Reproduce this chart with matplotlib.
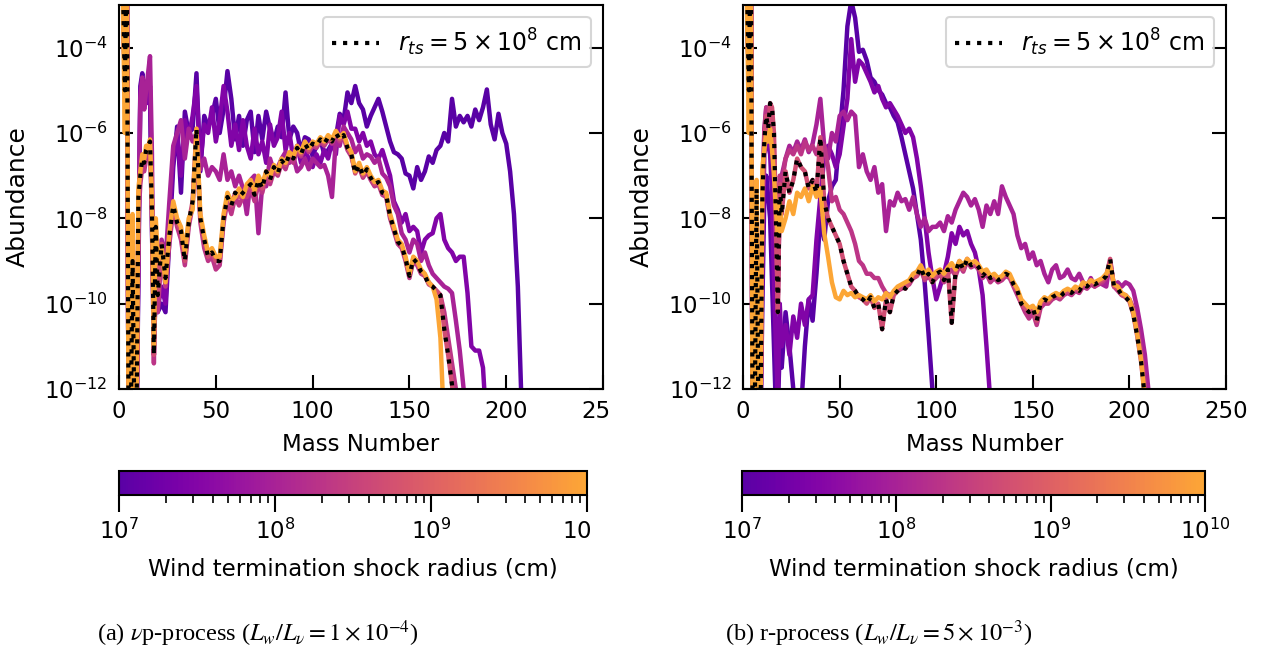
import numpy as np
import matplotlib
matplotlib.use('Agg')
import matplotlib.pyplot as plt
from matplotlib.colors import LogNorm, ListedColormap
from matplotlib.cm import ScalarMappable
from matplotlib.ticker import NullLocator, LogLocator, NullFormatter
from matplotlib.patches import Rectangle

plt.rcParams['font.size'] = 16.5
plt.rcParams['axes.linewidth'] = 1.5

# mass number grid: every A up to 20, then every second A
mass = np.r_[1:21, 22:211:2]

# shock radii of the plotted models (cm), dotted one is 5e8
radii = [1e7, 3e7, 1e8, 2e8, 5e8, 1e10]

# ---- (a) nu p-process, log10 abundance ----
vp_r1 = [-1.0, -2.5, -5.0, -1.2, -14, -13, -11.0, -13, -13, -9.5,
         -4.9, -4.6, -5.0, -4.8, -5.2, -5.0, -8.3, -10.5, -9.8, -10.2,
         -10.0, -10.2, -8.5, -6.8, -5.85, -7.4, -5.5, -6.0, -5.9, -4.6,
         -6.9, -5.6, -5.85, -5.6, -5.2, -6.0, -5.45, -4.55, -5.2, -6.15,
         -5.6, -6.3, -5.7, -5.5, -6.45, -5.6, -6.15, -5.5, -5.9, -6.2,
         -5.85, -6.1, -5.05, -6.15, -5.85, -6.0, -6.45, -6.1, -6.15, -6.55,
         -6.3, -6.15, -6.5, -6.4, -6.25, -6.1, -5.55, -5.7, -5.05, -5.3,
         -4.9, -5.3, -5.45, -5.85, -5.6, -5.4, -5.2, -5.5, -5.85, -6.2,
         -6.45, -6.5, -6.6, -6.95, -7.0, -7.3, -6.8, -7.1, -6.9, -6.55,
         -6.7, -6.4, -6.3, -6.0, -6.2, -5.2, -5.85, -5.6, -5.75, -5.6,
         -5.85, -5.45, -5.7, -5.4, -4.98, -5.8, -6.15, -5.55, -6.0, -6.25,
         -6.9, -7.9, -9.6, -12.5]
vp_r2 = [-1.0, -2.5, -5.0, -1.2, -14, -13, -11.0, -13, -13, -9.0,
         -5.0, -4.75, -5.3, -4.9, -5.3, -4.9, -7.5, -10.8, -9.8, -10.1,
         -9.6, -10.0, -8.0, -6.6, -6.0, -7.0, -5.7, -6.1, -5.6, -4.9,
         -6.7, -5.8, -6.0, -5.4, -6.2, -5.7, -4.9, -5.5, -6.3, -5.8,
         -6.4, -5.7, -6.3, -6.6, -5.9, -6.5, -6.2, -6.7, -5.8, -6.3,
         -6.1, -5.5, -6.4, -6.0, -6.6, -6.3, -6.7, -6.4, -6.6, -6.8,
         -6.5, -6.7, -6.4, -6.6, -6.2, -6.5, -5.6, -5.8, -5.5, -5.9,
         -5.9, -6.2, -6.0, -6.3, -6.2, -6.5, -6.6, -6.4, -6.7, -7.0,
         -7.6, -7.8, -8.1, -7.9, -8.3, -8.2, -8.3, -8.8, -8.5, -8.4,
         -8.35, -8.0, -7.9, -8.5, -8.7, -8.8, -9.0, -8.9, -8.9, -9.75,
         -11.0, -11.1, -11.1, -11.5, -13]
vp_r3 = [-1.0, -2.5, -5.0, -1.2, -14, -13, -10.0, -13, -13, -8.5,
         -5.2, -4.7, -5.45, -5.0, -4.6, -4.2, -6.5, -11.2, -9.5, -10.0,
         -8.5, -9.0, -7.6, -6.3, -6.0, -5.7, -6.6, -5.9, -6.2, -6.0,
         -6.85, -6.6, -7.0, -6.8, -6.9, -7.1, -6.5, -7.1, -6.9, -7.25,
         -7.0, -7.3, -7.9, -7.1, -7.0, -8.35, -7.2, -7.25, -6.6, -6.9,
         -6.8, -6.6, -6.45, -6.7, -6.55, -6.9, -6.8, -6.6, -6.85, -6.6,
         -6.7, -6.8, -6.75, -7.0, -7.5, -6.15, -6.3, -5.85, -6.0, -6.15,
         -6.45, -6.3, -6.6, -6.5, -6.55, -6.7, -6.6, -6.95, -7.05, -7.25,
         -7.7, -7.9, -8.35, -8.5, -8.8, -8.5, -8.6, -9.0, -8.8, -9.1,
         -9.3, -9.4, -9.5, -9.6, -9.65, -9.75, -10.4, -11.1, -12.0, -13]
vp_r4 = [-1.0, -2.5, -5.0, -1.2, -14, -13, -9.0, -13, -13, -8.0,
         -7.2, -6.8, -6.9, -6.6, -6.4, -6.3, -8.0, -11.4, -8.4, -10.2,
         -8.8, -9.6, -8.6, -7.8, -8.2, -8.5, -9.1, -8.2, -7.7, -6.2,
         -8.1, -8.7, -9.0, -8.9, -9.2, -9.1, -8.1, -7.6, -7.9, -7.5,
         -7.7, -7.5, -7.5, -7.3, -7.6, -7.2, -7.4, -7.0, -7.2, -6.9,
         -7.0, -6.7, -6.85, -6.55, -6.7, -6.4, -6.55, -6.3, -6.45, -6.3,
         -6.35, -6.2, -6.3, -6.15, -6.25, -6.05, -6.2, -6.1, -6.4, -6.55,
         -6.9, -6.8, -7.05, -6.9, -7.1, -7.25, -7.2, -7.45, -7.5, -8.0,
         -8.3, -8.6, -8.7, -9.0, -9.4, -9.0, -9.1, -9.3, -9.35, -9.5,
         -9.6, -9.7, -9.8, -10.2, -10.8, -11.4, -12.0, -13]
vp_dot = [-1.0, -2.5, -5.0, -1.2, -14, -13, -9.0, -13, -13, -7.5,
          -7.0, -6.6, -6.7, -6.4, -6.3, -6.2, -7.8, -11.2, -8.2, -9.8,
          -8.6, -9.4, -8.4, -7.7, -8.1, -8.3, -9.0, -8.1, -7.6, -5.9,
          -8.0, -8.5, -8.9, -8.8, -9.0, -9.0, -8.0, -7.5, -7.7, -7.4,
          -7.5, -7.4, -7.3, -7.2, -7.45, -7.1, -7.3, -6.9, -7.1, -6.8,
          -6.95, -6.65, -6.75, -6.5, -6.6, -6.35, -6.5, -6.25, -6.4, -6.25,
          -6.3, -6.15, -6.25, -6.1, -6.2, -6.0, -6.15, -6.05, -6.35, -6.5,
          -6.95, -6.75, -7.0, -6.85, -7.05, -7.2, -7.15, -7.4, -7.45, -7.95,
          -8.25, -8.55, -8.65, -8.95, -9.35, -8.95, -9.05, -9.25, -9.35, -9.55,
          -9.6, -9.7, -9.8, -10.6, -11.2, -11.9, -13]
vp_main = [-1.0, -3.0, -6.0, -1.5, -14, -13, -7.9, -13, -13, -7.3,
           -6.9, -6.5, -6.6, -6.3, -6.4, -6.15, -7.6, -11.0, -8.0, -9.0,
           -8.7, -9.5, -8.3, -7.6, -8.0, -8.2, -8.8, -8.0, -7.8, -5.9,
           -7.9, -8.4, -8.8, -8.7, -8.9, -8.9, -7.9, -7.4, -7.6, -7.5,
           -7.3, -7.5, -7.2, -7.1, -7.35, -7.0, -7.2, -6.9, -7.0, -6.75,
           -6.9, -6.6, -6.7, -6.45, -6.55, -6.3, -6.45, -6.2, -6.35, -6.2,
           -6.25, -6.1, -6.2, -6.05, -6.15, -5.95, -6.1, -6.0, -6.3, -6.45,
           -6.9, -6.7, -6.95, -6.8, -7.0, -7.15, -7.1, -7.35, -7.4, -7.9,
           -8.2, -8.5, -8.6, -8.9, -9.3, -8.9, -9.0, -9.2, -9.3, -9.5,
           -9.6, -9.9, -10.8, -13]

# ---- (b) r-process, log10 abundance ----
r_r1 = [-1.0, -2.5, -5.0, -1.2, -14, -13, -10.0, -13, -13, -10.0,
        -7.5, -7.0, -7.5, -8.0, -9.5, -11.0, -12.5, -12.5, -11.0, -11.5,
        -10.2, -11.0, -12.0, -12.5, -12.5, -11.0, -9.9, -10.4, -9.3, -8.0,
        -8.5, -7.6, -7.25, -7.1, -6.0, -5.0, -3.5, -2.9, -3.3, -4.1,
        -4.05, -4.3, -4.7, -4.8, -5.0, -5.1, -5.3, -5.4, -5.6, -5.75,
        -6.1, -6.5, -6.9, -7.3, -7.9, -8.5, -9.5, -10.7, -12.0, -13]
r_r2 = [-1.0, -2.5, -5.0, -1.2, -14, -13, -9.0, -13, -13, -9.0,
        -6.5, -6.0, -6.3, -6.5, -7.5, -9.5, -11.0, -12.2, -10.0, -11.0,
        -10.5, -11.2, -10.3, -10.8, -10.0, -10.5, -9.9, -9.8, -8.5, -7.5,
        -6.6, -6.3, -6.5, -6.8, -6.5, -5.85, -5.2, -3.8, -4.8, -4.3,
        -4.4, -4.6, -4.8, -5.05, -4.9, -5.2, -5.4, -5.3, -5.45, -5.6,
        -5.8, -6.0, -5.9, -6.1, -6.6, -7.25, -8.0, -8.8, -9.4, -9.9,
        -9.6, -9.3, -8.9, -8.35, -8.6, -8.2, -8.4, -8.3, -8.6, -8.8,
        -9.2, -9.8, -11.0, -12.3, -13]
r_r3 = [-1.0, -2.5, -5.0, -1.2, -14, -13, -8.0, -13, -13, -8.0,
        -5.9, -5.4, -5.5, -5.7, -5.9, -6.8, -8.5, -9.8, -7.6, -7.0,
        -6.6, -6.3, -6.45, -6.2, -6.4, -6.15, -6.45, -6.25, -5.8, -5.2,
        -6.3, -6.6, -6.0, -6.2, -5.6, -5.5, -5.7, -5.5, -5.6, -6.8,
        -6.5, -6.9, -7.1, -6.8, -7.4, -7.2, -8.3, -7.6, -7.7, -7.4,
        -7.6, -7.55, -7.8, -7.5, -7.9, -8.2, -8.0, -8.3, -8.2, -8.2,
        -8.1, -8.3, -7.95, -8.1, -7.8, -7.6, -7.4, -7.5, -7.7, -7.55,
        -7.8, -8.2, -7.7, -7.9, -7.6, -7.9, -7.25, -7.5, -7.7, -7.9,
        -8.4, -8.7, -8.6, -8.95, -8.8, -9.1, -9.0, -9.3, -9.5, -9.2,
        -9.1, -9.4, -9.35, -9.2, -9.4, -9.45, -9.3, -9.5, -9.6, -9.4,
        -9.6, -9.5, -9.55, -9.6, -9.0, -9.6, -9.5, -9.6, -9.5, -9.55,
        -9.7, -10.1, -10.6, -11.2, -12.1]
r_r4 = [-1.0, -2.5, -5.0, -1.2, -14, -13, -7.8, -13, -13, -7.8,
        -6.0, -5.4, -5.6, -5.5, -5.7, -6.4, -7.8, -10.0, -7.0, -7.2,
        -6.6, -6.4, -6.5, -6.3, -6.5, -6.2, -6.4, -6.3, -6.5, -6.2,
        -6.3, -6.8, -7.6, -7.5, -7.8, -7.9, -8.1, -8.3, -8.6, -9.0,
        -9.1, -9.3, -9.3, -9.4, -9.4, -9.6, -9.75, -9.8, -9.75, -9.7,
        -9.65, -9.6, -9.55, -9.4, -9.35, -9.2, -9.45, -9.35, -9.5, -9.4,
        -9.3, -9.5, -9.3, -9.2, -9.35, -9.1, -9.25, -9.0, -9.15, -9.1,
        -9.2, -9.4, -9.3, -9.5, -9.4, -9.5, -9.45, -9.35, -9.4, -9.6,
        -9.8, -10.0, -10.2, -10.35, -10.2, -10.5, -10.1, -10.0, -10.0, -9.9,
        -9.85, -9.9, -9.8, -9.75, -9.8, -9.7, -9.75, -9.6, -9.65, -9.55,
        -9.6, -9.55, -9.5, -9.4, -9.05, -9.6, -9.7, -9.8, -9.8, -9.9,
        -10.1, -10.5, -11.1, -11.9, -13]
r_dot = [-1.0, -2.5, -5.0, -1.2, -14, -13, -7.3, -13, -13, -7.5,
         -6.2, -5.6, -5.9, -5.3, -5.4, -6.0, -8.0, -10.2, -7.2, -7.9,
         -6.9, -7.4, -7.1, -6.6, -6.8, -6.9, -7.3, -7.1, -7.4, -6.1,
         -7.6, -8.0, -8.2, -8.4, -8.6, -9.0, -9.3, -9.6, -9.7, -9.85,
         -9.9, -10.0, -9.85, -10.1, -10.0, -10.6, -9.9, -10.2, -9.8, -9.7,
         -9.6, -9.65, -9.5, -9.4, -9.35, -9.15, -9.4, -9.3, -9.5, -9.3,
         -9.25, -9.45, -9.2, -10.45, -9.25, -9.0, -9.2, -8.95, -9.1, -9.05,
         -9.15, -9.35, -9.25, -9.4, -9.35, -9.45, -9.4, -9.3, -9.35, -9.55,
         -9.7, -10.0, -10.1, -10.2, -10.1, -10.4, -10.0, -9.9, -9.95, -9.85,
         -9.8, -9.85, -9.75, -9.7, -9.75, -9.65, -9.7, -9.55, -9.6, -9.5,
         -9.55, -9.5, -9.45, -9.35, -8.95, -9.6, -9.65, -9.8, -9.85, -9.95,
         -10.25, -10.75, -11.35, -12.2]
r_main = [-1.0, -3.0, -6.0, -1.5, -14, -13, -7.1, -13, -13, -6.8,
          -6.4, -6.0, -6.2, -5.9, -6.4, -7.0, -7.8, -8.4, -7.6, -8.3,
          -8.0, -7.6, -7.9, -7.4, -7.5, -7.3, -7.6, -7.25, -7.5, -7.3,
          -8.35, -8.9, -9.5, -9.85, -9.9, -9.7, -9.8, -9.75, -9.85, -9.8,
          -9.85, -9.9, -9.8, -9.95, -9.85, -9.9, -9.75, -9.85, -9.7, -9.6,
          -9.55, -9.5, -9.45, -9.3, -9.25, -9.1, -9.3, -9.2, -9.35, -9.25,
          -9.2, -9.3, -9.15, -9.05, -9.2, -9.0, -9.1, -8.95, -9.05, -9.0,
          -9.1, -9.25, -9.2, -9.35, -9.3, -9.4, -9.35, -9.25, -9.3, -9.5,
          -9.65, -9.9, -10.0, -10.1, -10.05, -10.2, -9.95, -9.85, -9.9, -9.8,
          -9.75, -9.8, -9.7, -9.65, -9.7, -9.6, -9.65, -9.5, -9.55, -9.45,
          -9.5, -9.45, -9.4, -9.3, -9.1, -9.55, -9.6, -9.75, -9.8, -9.9,
          -10.2, -10.7, -11.3, -12.2]

vp_lines = [vp_r1, vp_r2, vp_r3, vp_r4, vp_dot, vp_main]
r_lines = [r_r1, r_r2, r_r3, r_r4, r_dot, r_main]

cmap = ListedColormap(plt.cm.plasma(np.linspace(0.16, 0.8, 256)))
norm = LogNorm(1e7, 1e10)

fig = plt.figure(figsize=(12.65, 6.53), dpi=100)


def draw_panel(rect, crect, lines, dotted, caption, cap_x):
    ax = fig.add_axes(rect)
    for r, y in zip(radii, lines):
        ax.plot(mass[:len(y)], 10.0 ** np.array(y), color=cmap(norm(r)), lw=3.2)
    ax.plot(mass[:len(dotted)], 10.0 ** np.array(dotted), 'k:', lw=3.0,
            label=r'$r_{ts} = 5\times10^8$ cm')
    ax.set_yscale('log')
    ax.set_ylim(1e-12, 1e-3)
    ax.set_xlim(0, 250)
    ax.set_yticks([1e-12, 1e-10, 1e-8, 1e-6, 1e-4])
    ax.yaxis.set_minor_locator(NullLocator())
    ax.set_xticks([0, 50, 100, 150, 200, 250])
    ax.tick_params(direction='in', length=10, width=1.5, right=True, pad=8)
    ax.set_xlabel('Mass Number', labelpad=7)
    ax.set_ylabel('Abundance', fontsize=18, labelpad=10)
    leg = ax.legend(loc='upper right', fontsize=17)
    leg.get_frame().set_linewidth(1.5)

    cax = fig.add_axes(crect)
    cb = fig.colorbar(ScalarMappable(norm=norm, cmap=cmap), cax=cax, orientation='horizontal')
    cb.ax.xaxis.set_minor_locator(LogLocator(subs=np.arange(2, 10)))
    cb.ax.xaxis.set_minor_formatter(NullFormatter())
    cb.ax.tick_params(which='major', length=12, width=1.5, pad=5)
    cb.ax.tick_params(which='minor', length=6, width=1.2)
    cb.outline.set_linewidth(1.5)
    cb.set_label('Wind termination shock radius (cm)', labelpad=10)

    fig.text(cap_x, 0.018, caption, family='Liberation Serif', math_fontfamily='stix',
             fontsize=17.6, ha='left', va='baseline')


draw_panel([0.0941, 0.4043, 0.3826, 0.5881], [0.0941, 0.2419, 0.3700, 0.0368],
           vp_lines, vp_dot, r'(a) $\nu$p-process ($L_w/L_\nu = 1\times10^{-4}$)', 0.077)
draw_panel([0.5874, 0.4043, 0.3818, 0.5881], [0.5866, 0.2419, 0.3660, 0.0368],
           r_lines, r_dot, r'(b) r-process ($L_w/L_\nu = 5\times10^{-3}$)', 0.573)

# the left sub-figure is cropped at its right edge in the original
fig.add_artist(Rectangle((609 / 1265, 1 - 465 / 653), 40 / 1265, 75 / 653,
                         transform=fig.transFigure, color='white', zorder=20))
fig.add_artist(Rectangle((593 / 1265, 1 - 565 / 653), 50 / 1265, 65 / 653,
                         transform=fig.transFigure, color='white', zorder=20))

fig.savefig('out.png', dpi=100)
